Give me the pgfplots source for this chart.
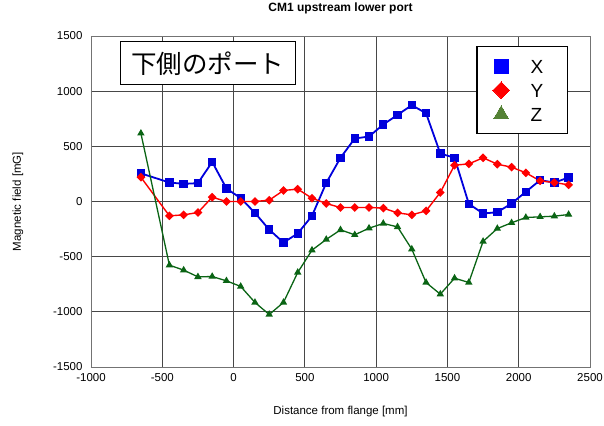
\documentclass[border=0pt]{standalone}
\usepackage{pgfplots}
\pgfplotsset{compat=1.18}
\usepackage{fontspec}
\setmainfont{Liberation Sans}
\newfontfamily\jpfont{Noto Sans CJK JP}
\definecolor{cblue}{RGB}{0,0,220}
\definecolor{cred}{RGB}{255,0,0}
\definecolor{cgreen}{RGB}{10,100,20}
\definecolor{lgreen}{RGB}{84,130,53}
\begin{document}
\begin{tikzpicture}
\useasboundingbox (-91pt,-58pt) rectangle (513pt,367pt);
\begin{axis}[
  scale only axis,
  width=499pt, height=331pt,
  xmin=-1000, xmax=2500, ymin=-1500, ymax=1500,
  xtick={-1000,-500,0,500,1000,1500,2000,2500},
  xticklabels={-1000,-500,0,500,1000,1500,2000,2500},
  ytick={-1500,-1000,-500,0,500,1000,1500},
  yticklabels={-1500,-1000,-500,0,500,1000,1500},
  major tick length=0pt,
  grid=major,
  major grid style={black!72, line width=0.8pt},
  axis line style={black!55, line width=0.9pt},
  tick label style={font=\fontsize{11.5}{12}\selectfont},
  xticklabel style={yshift=-2.5pt},
  yticklabel style={xshift=-5pt},
  title={CM1 upstream lower port},
  title style={font=\bfseries\fontsize{12}{12}\selectfont, at={(0.5,1.0665)}, anchor=center},
  xlabel={Distance from flange [mm]},
  xlabel style={font=\fontsize{11.5}{12}\selectfont, at={(0.5,-0.136)}, anchor=center},
  ylabel={Magnetic field [mG]},
  ylabel style={font=\fontsize{11.5}{12}\selectfont, at={(-0.1463,0.5)}, anchor=center},
  legend style={at={(rel axis cs:0.9565,0.9698)}, anchor=north east, draw=black, line width=1.5pt,
    row sep=4pt, inner xsep=16pt, inner ysep=9.5pt,
    nodes={font=\fontsize{19}{19}\selectfont, text height=14pt, text depth=0pt, inner sep=3pt},
    /tikz/every odd column/.append style={column sep=18pt}},
  legend cell align=left,
  legend image code/.code={\draw[#1] plot coordinates {(0pt,0pt)};},
]
\addplot[cblue, line width=1.8pt, mark=square*, mark size=3.3pt, mark options={solid}, forget plot] coordinates {
(-650,255) (-450,172) (-350,160) (-250,166) (-150,359) (-50,118) (50,30) (150,-103) (250,-255) (350,-372)
(450,-290) (550,-130) (650,168) (750,396) (850,571) (950,589) (1050,698) (1150,785) (1250,873) (1350,800)
(1450,435) (1550,396) (1650,-21) (1750,-109) (1850,-97) (1950,-18) (2050,88) (2150,193) (2250,172) (2350,217)};
\addplot[cred, line width=1.4pt, mark=square*, mark size=2.4pt, mark options={solid, rotate=45}, forget plot] coordinates {
(-650,220) (-450,-130) (-350,-121) (-250,-100) (-150,39) (-50,0) (50,0) (150,0) (250,12) (350,100)
(450,112) (550,30) (650,-18) (750,-55) (850,-54) (950,-54) (1050,-60) (1150,-103) (1250,-121) (1350,-85)
(1450,82) (1550,329) (1650,341) (1750,396) (1850,338) (1950,311) (2050,260) (2150,187) (2250,172) (2350,151)};
\addplot[cgreen, line width=1.3pt, mark=triangle*, mark size=3pt, mark options={solid}, forget plot] coordinates {
(-650,618) (-450,-577) (-350,-622) (-250,-683) (-150,-680) (-50,-719) (50,-770) (150,-915) (250,-1024) (350,-915)
(450,-643) (550,-441) (650,-344) (750,-257) (850,-302) (950,-242) (1050,-199) (1150,-230) (1250,-432) (1350,-734)
(1450,-840) (1550,-695) (1650,-734) (1750,-362) (1850,-245) (1950,-193) (2050,-145) (2150,-139) (2250,-133) (2350,-118)};
\addlegendimage{only marks, mark=square*, mark size=6.8pt, blue, line width=0pt}
\addlegendentry{\makebox[18pt][l]{X}}
\addlegendimage{only marks, mark=square*, mark size=5.9pt, mark options={rotate=45}, cred, line width=0pt}
\addlegendentry{Y}
\addlegendimage{only marks, mark=triangle*, mark size=8.5pt, lgreen, line width=0pt}
\addlegendentry{Z}
\node[draw=black, line width=1pt, fill=white, minimum width=175pt, minimum height=43pt, inner sep=0pt,
  font=\jpfont\fontsize{25.5}{25.5}\selectfont] at (axis cs:-180,1253) {下側のポート};
\end{axis}
\end{tikzpicture}
\end{document}
